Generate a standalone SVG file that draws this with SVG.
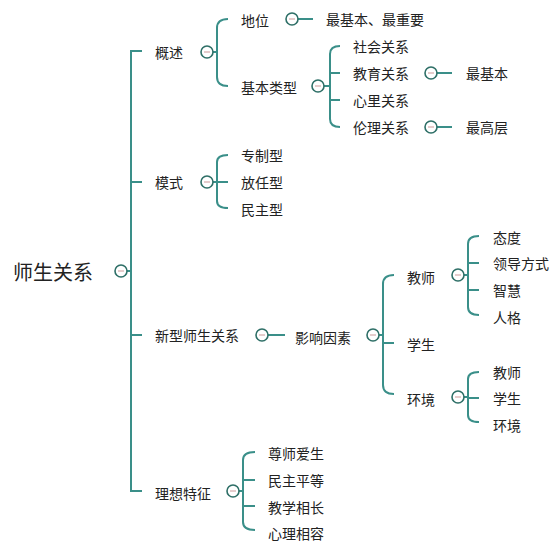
<svg xmlns="http://www.w3.org/2000/svg" width="560" height="544" viewBox="0 0 560 544">
<style>
text{font-family:"Noto Sans CJK SC","Noto Sans",sans-serif;font-size:14px;fill:#222;dominant-baseline:central}
.root{font-size:20px}
.ln{fill:none;stroke:#3a8f89;stroke-width:2}
.tc{fill:#fff;stroke:#2e6f67;stroke-width:1.6}
.tm{stroke:#c99;stroke-width:1}
</style>
<defs>
<g id="tog"><circle class="tc" r="6"/><line class="tm" x1="-3" y1="0" x2="3" y2="0"/></g>
</defs>
<rect width="560" height="544" fill="#fff"/>
<g id="connectors">
<path class="ln" d="M142,51 H131 V491 H142 M131,182 H142 M131,335 H142 M127,271 H131"/>
<path class="ln" d="M213,52 H217 M228,19 Q217,19 217,28 V77 Q217,86 228,86"/>
<path class="ln" d="M213,182 H217 M228,155 Q217,155 217,162 V201 Q217,208 228,208 M217,182 H228"/>
<path class="ln" d="M298,19 H313"/>
<path class="ln" d="M324,86 H330 M340,46 Q330,46 330,54 V119 Q330,127 340,127 M330,73 H340 M330,100 H340"/>
<path class="ln" d="M437,73 H452 M437,127 H452"/>
<path class="ln" d="M268,335 H285"/>
<path class="ln" d="M379,335 H383 M394,275 Q383,275 383,284 V385 Q383,394 394,394 M383,343 H394"/>
<path class="ln" d="M464,275 H468 M479,236 Q468,236 468,244 V307 Q468,315 479,315 M468,263 H479 M468,290 H479"/>
<path class="ln" d="M464,397 H468 M479,372 Q468,372 468,379 V415 Q468,422 479,422 M468,398 H479"/>
<path class="ln" d="M239,491 H243 M255,452 Q243,452 243,460 V522 Q243,530 255,530 M243,480 H255 M243,506 H255"/>
</g>
<g id="toggles">
<use href="#tog" x="121" y="271"/>
<use href="#tog" x="207" y="52"/>
<use href="#tog" x="207" y="182"/>
<use href="#tog" x="292" y="19"/>
<use href="#tog" x="318" y="86"/>
<use href="#tog" x="431" y="73"/>
<use href="#tog" x="431" y="127"/>
<use href="#tog" x="262" y="335"/>
<use href="#tog" x="373" y="335"/>
<use href="#tog" x="458" y="275"/>
<use href="#tog" x="458" y="397"/>
<use href="#tog" x="233" y="491"/>
</g>
<g id="n-root"><text class="root" x="13" y="271">师生关系</text></g>
<g id="n-gaishu"><text x="155" y="52">概述</text></g>
<g id="n-diwei"><text x="241" y="20">地位</text></g>
<g id="n-diwei-1"><text x="326" y="19">最基本、最重要</text></g>
<g id="n-leixing"><text x="241" y="87">基本类型</text></g>
<g id="n-shehui"><text x="353" y="46">社会关系</text></g>
<g id="n-jiaoyu"><text x="353" y="73">教育关系</text></g>
<g id="n-jiaoyu-1"><text x="466" y="73">最基本</text></g>
<g id="n-xinli"><text x="353" y="100">心里关系</text></g>
<g id="n-lunli"><text x="353" y="127">伦理关系</text></g>
<g id="n-lunli-1"><text x="466" y="127">最高层</text></g>
<g id="n-moshi"><text x="155" y="182">模式</text></g>
<g id="n-zhuanzhi"><text x="241" y="155">专制型</text></g>
<g id="n-fangren"><text x="241" y="182">放任型</text></g>
<g id="n-minzhu"><text x="241" y="209">民主型</text></g>
<g id="n-xinxing"><text x="155" y="335">新型师生关系</text></g>
<g id="n-yingxiang"><text x="295" y="337">影响因素</text></g>
<g id="n-jiaoshi"><text x="407" y="277">教师</text></g>
<g id="n-taidu"><text x="493" y="237">态度</text></g>
<g id="n-lingdao"><text x="493" y="263">领导方式</text></g>
<g id="n-zhihui"><text x="493" y="290">智慧</text></g>
<g id="n-renge"><text x="493" y="317">人格</text></g>
<g id="n-xuesheng"><text x="407" y="344">学生</text></g>
<g id="n-huanjing"><text x="407" y="399">环境</text></g>
<g id="n-hj-jiaoshi"><text x="493" y="372">教师</text></g>
<g id="n-hj-xuesheng"><text x="493" y="398">学生</text></g>
<g id="n-hj-huanjing"><text x="493" y="425">环境</text></g>
<g id="n-lixiang"><text x="155" y="493">理想特征</text></g>
<g id="n-zunshi"><text x="268" y="453">尊师爱生</text></g>
<g id="n-pingdeng"><text x="268" y="480">民主平等</text></g>
<g id="n-xiangzhang"><text x="268" y="507">教学相长</text></g>
<g id="n-xiangrong"><text x="268" y="533">心理相容</text></g>
</svg>
